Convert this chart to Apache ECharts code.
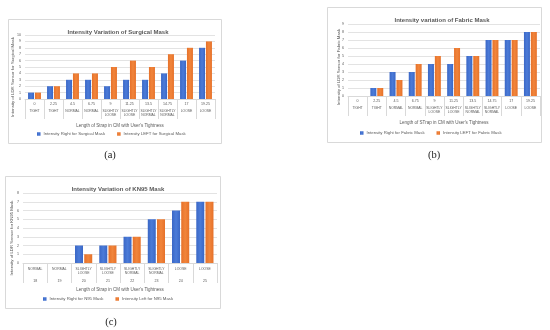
<!DOCTYPE html>
<html><head><meta charset="utf-8">
<script src="https://cdn.jsdelivr.net/npm/echarts@6/dist/echarts.min.js"></script>
<style>html,body{margin:0;padding:0;background:#fff}#c{width:550px;height:330px}</style>
</head><body><div id="c"></div>
<script>
// ---- data ----
const catsA = ['0','2.25','4.5','6.75','9','11.25','13.5','14.75','17','19.25'];
const levelsA = ['TIGHT','TIGHT','NORMAL','NORMAL','SLIGHTLY\nLOOSE','SLIGHTLY\nLOOSE','SLIGHTLY\nNORMAL','SLIGHTLY\nNORMAL','LOOSE','LOOSE'];
const rightA = [1,2,3,3,2,3,3,4,6,8];
const leftA  = [1,2,4,4,5,6,5,7,8,9];

const catsB = ['0','2.25','4.5','6.75','9','11.25','13.5','14.75','17','19.25'];
const levelsB = ['TIGHT','TIGHT','NORMAL','NORMAL','SLIGHTLY\nLOOSE','SLIGHTLY\nLOOSE','SLIGHTLY\nNORMAL','SLIGHTLY\nNORMAL','LOOSE','LOOSE'];
const rightB = [0,1,3,3,4,4,5,7,7,8];
const leftB  = [0,1,2,4,5,6,5,7,7,8];

const catsC = ['18','19','20','21','22','23','24','25'];
const levelsC = ['NORMAL','NORMAL','SLIGHTLY\nLOOSE','SLIGHTLY\nLOOSE','SLIGHTLY\nNORMAL','SLIGHTLY\nNORMAL','LOOSE','LOOSE'];
const rightC = [0,0,2,2,3,5,6,7];
const leftC  = [0,0,1,2,3,5,7,7];

const titles = ['Intensity Variation of Surgical Mask','Intensity variation of Fabric Mask','Intensity Variation of KN95 Mask'];
const xNames = ["Length of Strap in CM with User's Tightness","Length of STrap in CM with User's Tightness","Length of Strap in CM with User's Tightness"];
const yNames = ['Intensity of LDR Sensor for Surgical Mask','Intensity of LDR Sensor for Fabric Mask','Intensity of LDR Sensor for KN95 Mask'];
const seriesNames = [
  ['Intensity Right for Surgical Mask','Intensity LEFT for Surgical Mask'],
  ['Intensity Right for Fabric Mask','Intensity LEFT for Fabric Mask'],
  ['Intensity Right for N95 Mask','Intensity Left for N95 Mask']
];
const yMax = [10, 9, 8];
const captions = ['(a)','(b)','(c)'];

// ---- style ----
const FONT = 'Liberation Sans';
const TXT = '#595959';
const LINE = '#d9d9d9';
const blue = {type:'linear',x:0,y:0,x2:1,y2:0,colorStops:[{offset:0,color:'#3a67c6'},{offset:0.5,color:'#4b7bd8'},{offset:1,color:'#3a67c6'}]};
const orange = {type:'linear',x:0,y:0,x2:1,y2:0,colorStops:[{offset:0,color:'#e6712a'},{offset:0.5,color:'#f1853b'},{offset:1,color:'#e6712a'}]};

const grids = [
  {left:25, top:35, width:190, height:64},
  {left:348, top:24, width:192, height:72},
  {left:23, top:193, width:194, height:70}
];

function richLines(s, tag){ return s.split('\n').map(t => '{'+tag+'|'+t+'}').join('\n'); }
const rich = {
  n:{fontSize:3.6, lineHeight:5, color:TXT, fontFamily:FONT},
  l:{fontSize:3.4, lineHeight:4, color:TXT, fontFamily:FONT},
  s:{fontSize:2, lineHeight:3.5},
  s2:{fontSize:2, lineHeight:3.5}
};

function xAxisFor(i, cats, levels, numFirst){
  return {
    type:'category', gridIndex:i, data:cats,
    axisLine:{lineStyle:{color:LINE, width:1}},
    axisTick:{show:true, length:20, lineStyle:{color:LINE}},
    axisLabel:{
      interval:0, margin: numFirst ? 2 : 4, rich:rich,
      formatter:(v, idx) => {
        const lv = levels[idx];
        if (numFirst) return '{n|'+v+'}\n{s| }\n'+richLines(lv,'l');
        const lines = lv.split('\n'); while(lines.length<2) lines.push(' ');
        return richLines(lines.join('\n'),'l')+'\n{s2| }\n{n|'+v+'}';
      }
    },
    name: xNames[i], nameLocation:'middle', nameGap: 24,
    nameTextStyle:{fontSize:4.5, color:TXT, fontFamily:FONT}
  };
}
function yAxisFor(i){
  return {
    type:'value', gridIndex:i, min:0, max:yMax[i], interval:1,
    axisLine:{show:false}, axisTick:{show:false},
    axisLabel:{fontSize:3.6, color:TXT, margin:4, fontFamily:FONT},
    splitLine:{lineStyle:{color:'#e3e3e3', width:1}}
  };
}
function bars(i, name, data, color, w){
  return {type:'bar', name:name, xAxisIndex:i, yAxisIndex:i, data:data, barWidth:w, barGap:'15%',
    itemStyle:{color:color}, emphasis:{disabled:true}};
}

const panels = [
  {x:8, y:19, w:213, h:124},
  {x:327, y:7, w:214, h:135},
  {x:5, y:176, w:215, h:132}
];
const yNamePos = [[13,77],[339,67],[12,238]];
const capPos = [[110,155],[434,155],[111,322]];

const graphic = [];
panels.forEach(p => graphic.push({type:'rect', shape:{x:p.x+0.5,y:p.y+0.5,width:p.w,height:p.h}, style:{fill:'#fff', stroke:LINE, lineWidth:1}, z:-10, silent:true}));
yNames.forEach((t,i) => graphic.push({type:'text', x:yNamePos[i][0], y:yNamePos[i][1], rotation:Math.PI/2,
  style:{text:t, fontSize:4.3, fill:TXT, fontFamily:FONT, align:'center', verticalAlign:'middle'}, silent:true}));
captions.forEach((t,i) => graphic.push({type:'text', x:capPos[i][0], y:capPos[i][1],
  style:{text:t, fontSize:10.5, fill:'#222', fontFamily:'Liberation Serif', align:'center', verticalAlign:'middle'}, silent:true}));

const titlePos = [[113,24],[437,12],[113,181]];
const legendPos = [[37,132],[360,131],[43,297]];

const option = {
  animation:false,
  backgroundColor:'#fff',
  textStyle:{fontFamily:FONT},
  title: titles.map((t,i)=>({text:t, left:titlePos[i][0], top:titlePos[i][1], textAlign:'center',
    textStyle:{fontSize:6, fontWeight:'bold', color:TXT, fontFamily:FONT}})),
  legend: seriesNames.map((ns,i)=>({data:ns, left:legendPos[i][0], top:legendPos[i][1], orient:'horizontal',
    itemWidth:3.5, itemHeight:3.5, itemGap:12, icon:'rect', padding:0,
    textStyle:{fontSize:4.3, color:TXT, fontFamily:FONT, padding:[0,0,0,-2]}})),
  grid: grids,
  xAxis:[xAxisFor(0,catsA,levelsA,true), xAxisFor(1,catsB,levelsB,true), xAxisFor(2,catsC,levelsC,false)],
  yAxis:[yAxisFor(0), yAxisFor(1), yAxisFor(2)],
  series:[
    bars(0, seriesNames[0][0], rightA, blue, 6), bars(0, seriesNames[0][1], leftA, orange, 6),
    bars(1, seriesNames[1][0], rightB, blue, 6), bars(1, seriesNames[1][1], leftB, orange, 6),
    bars(2, seriesNames[2][0], rightC, blue, 8), bars(2, seriesNames[2][1], leftC, orange, 8)
  ],
  graphic: graphic
};
const chart = echarts.init(document.getElementById('c'), null, {renderer:'canvas'});
chart.setOption(option);
</script></body></html>
